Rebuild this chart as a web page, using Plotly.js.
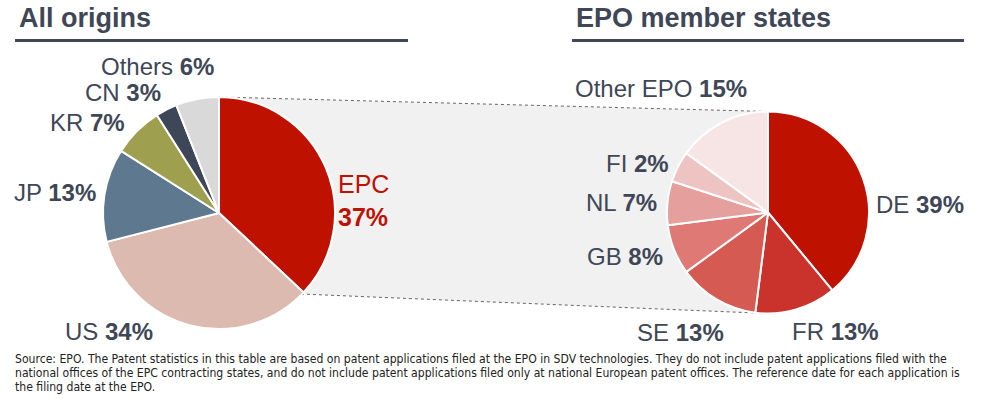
<!DOCTYPE html>
<html>
<head>
<meta charset="utf-8">
<script src="https://cdn.plot.ly/plotly-3.0.1.min.js"></script>
<style>
html,body{margin:0;padding:0;background:#fff;}
#chart{width:988px;height:399px;}
</style>
</head>
<body>
<div id="chart"></div>
<script>
// ---- data ----
const originLabels = ['EPC', 'US', 'JP', 'KR', 'CN', 'Others'];
const originValues = [37, 34, 13, 7, 3, 6];
const originShares = ['37%', '34%', '13%', '7%', '3%', '6%'];
const originColors = ['#BE1100', '#DDBAB0', '#5E788F', '#9EA04F', '#3E4757', '#D9D9D9'];

const memberLabels = ['DE', 'FR', 'SE', 'GB', 'NL', 'FI', 'Other EPO'];
const memberValues = [39, 13, 13, 8, 7, 5, 15];
const memberShares = ['39%', '13%', '13%', '8%', '7%', '2%', '15%'];
const memberColors = ['#BE1100', '#C9332B', '#D45A52', '#DE7975', '#E5A09D', '#EEC4C2', '#F7E5E6'];

const panelTitles = ['All origins', 'EPO member states'];
const footnoteLines = [
  'Source: EPO. The Patent statistics in this table are based on patent applications filed at the EPO in SDV technologies. They do not include patent applications filed with the',
  'national offices of the EPC contracting states, and do not include patent applications filed only at national European patent offices. The reference date for each application is',
  'the filing date at the EPO.'
];

// ---- helpers (pixel -> paper) ----
const W = 988, H = 399;
const X = px => px / W;
const Y = py => 1 - py / H;
const TXT = '#3F4757';
const FONT = 'Liberation Sans, Arial, sans-serif';
const NARROW = 'Liberation Sans Narrow, Arial Narrow, DejaVu Sans Condensed, Liberation Sans, sans-serif';

function pieDomain(cx, cy, r) {
  return { x: [X(cx - r), X(cx + r)], y: [Y(cy + r), Y(cy - r)] };
}

const traces = [
  {
    type: 'pie', labels: originLabels, values: originValues,
    marker: { colors: originColors, line: { color: '#ffffff', width: 2 } },
    sort: false, direction: 'clockwise', rotation: 0,
    textinfo: 'none', hoverinfo: 'label+percent', showlegend: false,
    domain: pieDomain(219, 213, 116)
  },
  {
    type: 'pie', labels: memberLabels, values: memberValues,
    marker: { colors: memberColors, line: { color: '#ffffff', width: 2 } },
    sort: false, direction: 'clockwise', rotation: 0,
    textinfo: 'none', hoverinfo: 'label+percent', showlegend: false,
    domain: pieDomain(768, 212.5, 101)
  }
];

function lbl(i, arrL, arrS, x, y, anchor, size) {
  return {
    xref: 'paper', yref: 'paper', x: X(x), y: Y(y), xanchor: anchor, yanchor: 'middle',
    showarrow: false, text: arrL[i] + ' <b>' + arrS[i] + '</b>',
    font: { family: FONT, size: size || 24, color: TXT }
  };
}

const annotations = [
  // titles
  { xref: 'paper', yref: 'paper', x: X(17), y: Y(18), xanchor: 'left', yanchor: 'middle', showarrow: false,
    text: '<b>' + panelTitles[0] + '</b>', font: { family: FONT, size: 27, color: TXT } },
  { xref: 'paper', yref: 'paper', x: X(574), y: Y(18), xanchor: 'left', yanchor: 'middle', showarrow: false,
    text: '<b>' + panelTitles[1] + '</b>', font: { family: FONT, size: 27, color: TXT } },
  // left pie labels
  { xref: 'paper', yref: 'paper', x: X(336), y: Y(200), xanchor: 'left', yanchor: 'middle', showarrow: false,
    text: originLabels[0] + '<br><b>' + originShares[0] + '</b>', align: 'left',
    font: { family: FONT, size: 25, color: '#BE1100' } },
  lbl(1, originLabels, originShares, 63, 331, 'left'),
  lbl(2, originLabels, originShares, 98, 192, 'right'),
  lbl(3, originLabels, originShares, 127, 122, 'right'),
  lbl(4, originLabels, originShares, 163, 93, 'right'),
  lbl(5, originLabels, originShares, 216, 66, 'right'),
  // right pie labels
  lbl(0, memberLabels, memberShares, 874, 204, 'left'),
  lbl(1, memberLabels, memberShares, 790, 331, 'left'),
  lbl(2, memberLabels, memberShares, 726, 332, 'right'),
  lbl(3, memberLabels, memberShares, 665, 256, 'right'),
  lbl(4, memberLabels, memberShares, 659, 202, 'right'),
  lbl(5, memberLabels, memberShares, 671, 163, 'right'),
  lbl(6, memberLabels, memberShares, 749, 89, 'right')
];
// footnote lines
footnoteLines.forEach((t, i) => {
  annotations.push({ xref: 'paper', yref: 'paper', x: X(13), y: Y(359 + i * 14), xanchor: 'left', yanchor: 'middle',
    showarrow: false, align: 'left', text: t, font: { family: NARROW, size: 12.1, color: '#222222' } });
});

const shapes = [
  // connector band
  { type: 'path', xref: 'paper', yref: 'paper', layer: 'below',
    path: `M ${X(219)} ${Y(97)} L ${X(768)} ${Y(111.5)} L ${X(768)} ${Y(313.5)} L ${X(301)} ${Y(294)} Z`,
    fillcolor: '#F1F1F1', line: { width: 0 } },
  { type: 'line', xref: 'paper', yref: 'paper', layer: 'below',
    x0: X(219), y0: Y(97), x1: X(768), y1: Y(111.5), line: { color: '#666666', width: 1, dash: 'dot' } },
  { type: 'line', xref: 'paper', yref: 'paper', layer: 'below',
    x0: X(301), y0: Y(294), x1: X(768), y1: Y(313.5), line: { color: '#666666', width: 1, dash: 'dot' } },
  // title underlines
  { type: 'line', xref: 'paper', yref: 'paper', x0: X(15), x1: X(408), y0: Y(40.5), y1: Y(40.5),
    line: { color: '#3F4757', width: 3 } },
  { type: 'line', xref: 'paper', yref: 'paper', x0: X(572), x1: X(964), y0: Y(40.5), y1: Y(40.5),
    line: { color: '#3F4757', width: 3 } }
];

const layout = {
  width: W, height: H,
  margin: { l: 0, r: 0, t: 0, b: 0 },
  paper_bgcolor: '#ffffff', plot_bgcolor: '#ffffff',
  showlegend: false,
  annotations: annotations,
  shapes: shapes,
  font: { family: FONT, color: TXT }
};

Plotly.newPlot('chart', traces, layout, { displayModeBar: false, staticPlot: true });
</script>
</body>
</html>
